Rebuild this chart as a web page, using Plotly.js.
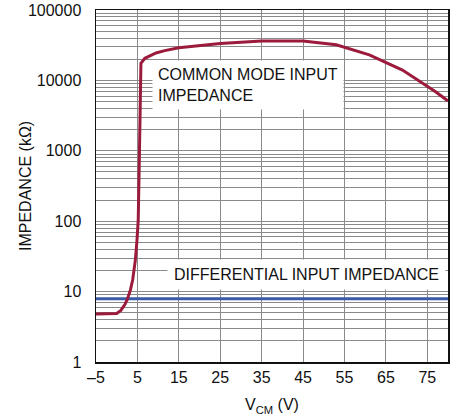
<!DOCTYPE html>
<html>
<head>
<meta charset="utf-8">
<script src="https://cdn.plot.ly/plotly-3.0.1.min.js"></script>
<style>
html,body{margin:0;padding:0;background:#fff;}
#chart{width:468px;height:416px;}
</style>
</head>
<body>
<div id="chart"></div>
<script>
// Common mode input impedance (kΩ) vs V_CM (V)
const cmVcm = [-5, -1, 0, 1, 2, 2.6, 3.3, 3.85, 4.5, 4.9, 5.2, 5.5, 5.85, 6.8, 8, 9.5, 11.6, 15, 25, 35, 45, 53, 61, 69, 77, 80];
const cmImpedance = [4.8, 4.8, 4.9, 5.4, 6.6, 7.85, 10.5, 14.6, 28, 54, 105, 1000, 17500, 20600, 22400, 24500, 26500, 29000, 33500, 36300, 36300, 32000, 23000, 14000, 6900, 5100];
// Differential input impedance (kΩ)
const diffVcm = [-5, 80];
const diffImpedance = [7.9, 7.9];

const xTickVals = [-5, 5, 15, 25, 35, 45, 55, 65, 75];
const xTickLabels = ['–5', '5', '15', '25', '35', '45', '55', '65', '75'];
const yDecades = [1, 10, 100, 1000, 10000, 100000];
const yTickLabels = ['1', '10', '100', '1000', '10000', '100000'];

// minor log grid: 2..9 in each decade
const yMinorVals = [];
yDecades.slice(0, -1).forEach(d => { for (let m = 2; m <= 9; m++) yMinorVals.push(d * m); });

const FONT = '"Liberation Sans", Arial, Helvetica, sans-serif';
const GRID = '#8a8a8a';

const traces = [
  {x: diffVcm, y: diffImpedance, mode: 'lines', line: {color: '#3b5ba9', width: 3}, hoverinfo: 'skip'},
  {x: cmVcm, y: cmImpedance, mode: 'lines', line: {color: '#9c1b3d', width: 3}, hoverinfo: 'skip'}
];

const layout = {
  width: 468, height: 416,
  margin: {l: 96, r: 20, t: 10, b: 54},
  paper_bgcolor: '#fff', plot_bgcolor: '#fff',
  showlegend: false,
  font: {family: FONT, size: 16, color: '#111'},
  xaxis: {
    range: [-5, 80], tickvals: xTickVals, ticktext: xTickLabels,
    showgrid: true, gridcolor: GRID, gridwidth: 1,
    showline: true, linecolor: '#111', linewidth: 1.5, mirror: true,
    ticks: '', zeroline: false,
    tickfont: {family: FONT, size: 16, color: '#111'},
    title: {text: 'V<sub>CM</sub> (V)', font: {family: FONT, size: 16, color: '#111'}, standoff: 14}
  },
  yaxis: {
    type: 'log', range: [0, 5], tickvals: yDecades, ticktext: yTickLabels,
    showgrid: true, gridcolor: GRID, gridwidth: 1,
    minor: {tickvals: yMinorVals, showgrid: true, gridcolor: GRID, gridwidth: 1, ticks: ''},
    showline: true, linecolor: '#111', linewidth: 1.5, mirror: true,
    ticks: '', ticklabelstandoff: 10, zeroline: false,
    tickfont: {family: FONT, size: 16, color: '#111'}
  },
  annotations: [
    {x: -0.2017, y: 0.5, xref: 'paper', yref: 'paper', xanchor: 'center', yanchor: 'middle',
     textangle: -90, text: 'IMPEDANCE (kΩ)', showarrow: false,
     font: {family: FONT, size: 16, color: '#111'}},
    {x: 8.5, y: 4.29, xref: 'x', yref: 'y', xanchor: 'left', yanchor: 'top', align: 'left',
     text: 'COMMON MODE INPUT<br>IMPEDANCE', showarrow: false, bgcolor: '#fff', borderpad: 5,
     font: {family: FONT, size: 16, color: '#111'}},
    {x: 12.1, y: 1.24, xref: 'x', yref: 'y', xanchor: 'left', yanchor: 'middle', align: 'left',
     text: 'DIFFERENTIAL INPUT IMPEDANCE', showarrow: false, bgcolor: '#fff', borderpad: 6,
     font: {family: FONT, size: 16, color: '#111'}}
  ]
};

Plotly.newPlot('chart', traces, layout, {displayModeBar: false, staticPlot: true});
</script>
</body>
</html>
